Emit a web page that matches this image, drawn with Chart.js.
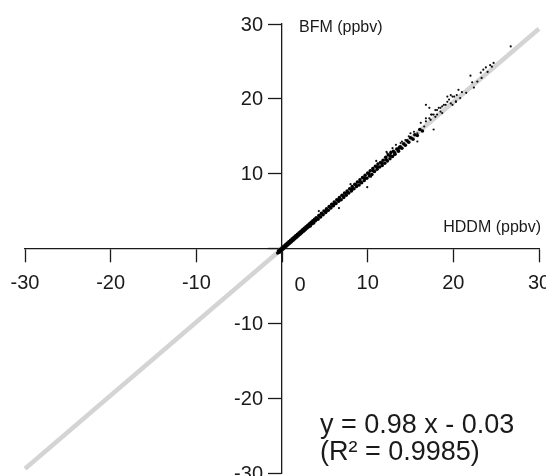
<!DOCTYPE html>
<html>
<head>
<meta charset="utf-8">
<script src="https://cdn.jsdelivr.net/npm/chart.js@4"></script>
<style>
  html, body { margin: 0; padding: 0; background: #fff; }
  #chart { display: block; }
</style>
</head>
<body>
<canvas id="chart" width="546" height="476"></canvas>
<script>
  // HDDM (x) vs BFM (y), ppbv -- the dense band close to the 1:1 line
  const bandHddm = [
    -0.5,-0.4,-0.3,-0.2,-0.1,0.0,0.1,0.2,0.3,0.4,0.5,0.6,0.7,0.8,0.9,1.0,1.1,1.2,1.3,1.4,1.5,1.6,1.7,1.8,1.9,2.0,2.1,2.2,2.3,2.4,2.5,2.6,2.7,2.8,2.9,3.0,3.1,3.2,3.3,3.4,3.5,3.6,3.7,3.8,3.9,
    4.0,4.2,4.3,4.5,4.6,4.8,4.9,5.1,5.2,5.4,5.5,5.7,5.8,6.0,6.1,6.3,6.4,6.6,6.7,6.9,7.0,7.2,7.3,7.5,7.6,7.8,7.9,8.1,8.2,8.4,8.5,8.7,8.8,9.0,9.1,9.3,9.4,9.6,9.7,9.9,
    10.0,10.2,10.3,10.5,10.6,10.8,10.9,11.1,11.2,11.4,11.5,11.7,11.8,12.0,12.1,12.3,12.4,12.6,12.7,12.9,13.0,13.2,13.4,13.6,13.8,14.0,14.2,14.4,14.6,14.8,15.0,15.3,15.5,15.8,16.1,16.4,
    0.15,0.65,1.15,1.65,2.15,2.65,3.15,3.65,4.15,4.65,5.15,5.65,6.15,6.65,7.15,7.65,8.15,8.65,9.15,9.65,10.15,10.65,11.15,11.65,12.15,12.65,13.15,13.65
  ];
  const bandBfm = [
    -0.6,-0.3,-0.5,-0.1,-0.3,0.1,-0.1,0.3,0.1,0.5,0.3,0.7,0.5,0.9,0.7,1.1,0.9,1.3,1.1,1.5,1.3,1.7,1.5,1.9,1.7,2.1,1.9,2.3,2.1,2.5,2.3,2.7,2.5,2.9,2.7,3.1,2.9,3.3,3.0,3.5,3.3,3.7,3.4,3.9,3.7,
    4.1,3.9,4.4,4.2,4.7,4.5,5.0,4.8,5.3,5.1,5.6,5.4,5.9,5.7,6.2,6.0,6.5,6.3,6.8,6.5,7.1,6.8,7.4,7.1,7.7,7.4,8.0,7.7,8.3,8.0,8.6,8.3,8.9,8.5,9.2,8.8,9.5,9.1,9.8,9.4,
    10.1,9.7,10.4,9.9,10.7,10.3,11.0,10.6,11.3,10.9,11.5,11.1,11.8,11.4,12.2,11.7,12.5,12.0,12.8,12.3,13.0,12.6,13.3,13.0,13.6,13.4,14.0,13.8,14.4,14.2,14.8,14.6,15.2,15.1,15.9,15.7,
    0.1,0.6,1.1,1.6,2.1,2.5,3.1,3.5,4.0,4.6,5.0,5.5,6.0,6.5,7.0,7.5,7.9,8.5,8.9,9.4,10.0,10.4,10.9,11.4,11.9,12.4,12.8,13.4
  ];
  // the looser points further out
  const sparseHddm = [
    6.65,9.95,4.3,8.0,11.0,12.2,10.4,12.3,12.7,13.1,12.9,13.3,13.45,13.65,13.85,14.0,14.4,14.8,15.2,15.0,15.8,15.8,15.4,16.0,16.6,16.2,16.8,17.35,17.7,17.2,16.8,17.5,18.1,18.7,17.9,18.5,18.9,19.9,20.3,19.5,19.3,19.9,20.4,
    26.7,24.7,24.3,23.8,24.5,24.0,23.5,22.0,23.2,23.3,22.8,22.2,22.4,21.0,20.6,21.5,20.1,19.7,20.8,20.3,19.3,19.1,19.7,18.7,18.3,18.5,18.1,17.7,17.9,17.4,17.2,16.8
  ];
  const sparseBfm = [
    5.4,8.2,5.0,8.6,11.7,12.9,9.6,12.7,12.95,12.5,13.4,13.85,13.2,13.6,14.1,14.3,14.5,15.0,14.75,15.4,14.3,15.4,15.6,15.9,16.3,16.8,17.0,17.2,15.9,18.8,19.2,17.9,17.9,18.1,18.5,18.8,19.2,19.2,19.65,19.9,20.3,20.3,20.5,
    27.0,24.8,24.5,24.2,24.3,23.6,23.9,23.1,23.5,22.8,22.3,22.2,21.5,20.9,21.2,20.8,20.3,20.5,20.1,19.6,19.6,19.2,19.4,19.0,18.8,18.3,18.5,17.9,17.6,17.9,17.4,17.4
  ];

  // fit line end points: y = 0.98 x - 0.03
  const fitX = [-30, 30];
  const fitY = [-29.43, 29.37];

  const tickValues = [-30, -20, -10, 0, 10, 20, 30];
  const fitText = ["y = 0.98 x - 0.03", "(R\u00B2 = 0.9985)"];

  const FONT = "'Liberation Sans', Helvetica, Arial, sans-serif";
  const INK = "#1a1a1a";

  const toPoints = (xs, ys) => xs.map((x, i) => ({ x: x, y: ys[i] }));

  // labels that Igor puts by hand: y tick labels, the shifted "0", axis names, fit text
  const extraText = {
    id: "extraText",
    afterDraw(chart) {
      const ctx = chart.ctx;
      const xs = chart.scales.x;
      const ys = chart.scales.y;
      const x0 = xs.getPixelForValue(0);
      const y0 = ys.getPixelForValue(0);

      ctx.save();
      ctx.fillStyle = INK;

      ctx.font = "20px " + FONT;
      ctx.textAlign = "right";
      ctx.textBaseline = "middle";
      ys.ticks.forEach((t) => {
        if (t.value === 0) return;
        ctx.fillText(String(t.value), x0 - 19, ys.getPixelForValue(t.value) + 1);
      });

      ctx.textAlign = "center";
      ctx.textBaseline = "alphabetic";
      ctx.fillText("0", x0 + 18, y0 + 42);

      ctx.font = "16px " + FONT;
      ctx.textAlign = "right";
      ctx.fillText("HDDM (ppbv)", chart.chartArea.right + 2, y0 - 17);
      ctx.textAlign = "left";
      ctx.fillText("BFM (ppbv)", x0 + 17, ys.getPixelForValue(30) + 8);

      ctx.font = "27px " + FONT;
      ctx.fillText(fitText[0], x0 + 38, ys.getPixelForValue(-24.6));
      ctx.fillText(fitText[1], x0 + 38, ys.getPixelForValue(-28.2));
      ctx.restore();
    }
  };

  const axisOpts = (other, showLabels) => ({
    type: "linear",
    min: -30,
    max: 30,
    position: { [other]: 0 },
    afterBuildTicks: (scale) => {
      scale.ticks = tickValues.map((v) => ({ value: v }));
    },
    afterFit: (scale) => {
      if (scale.isHorizontal()) scale.height = 0;
      else scale.width = 0;
      scale.paddingLeft = 0;
      scale.paddingRight = 0;
      scale.paddingTop = 0;
      scale.paddingBottom = 0;
    },
    grid: {
      drawOnChartArea: false,
      drawTicks: true,
      tickLength: 13,
      tickColor: INK,
      tickWidth: 1.3,
    },
    border: { display: true, color: INK, width: 1.3 },
    ticks: {
      display: showLabels,
      color: INK,
      font: { family: FONT, size: 20 },
      padding: 10,
      maxRotation: 0,
      autoSkip: false,
      callback: (v) => (v === 0 ? "" : String(v)),
    },
  });

  new Chart(document.getElementById("chart"), {
    type: "scatter",
    data: {
      datasets: [
        {
          label: "BFM vs HDDM (band)",
          data: toPoints(bandHddm, bandBfm),
          pointRadius: 1.75,
          pointBackgroundColor: "#000",
          pointBorderWidth: 0,
          order: 1,
        },
        {
          label: "BFM vs HDDM",
          data: toPoints(sparseHddm, sparseBfm),
          pointRadius: 1.1,
          pointBackgroundColor: "#111",
          pointBorderWidth: 0,
          order: 1,
        },
        {
          type: "line",
          label: "fit",
          data: toPoints(fitX, fitY),
          borderColor: "#d4d4d4",
          borderWidth: 4.5,
          pointRadius: 0,
          fill: false,
          clip: false,
          order: 2,
        },
      ],
    },
    options: {
      responsive: false,
      animation: false,
      layout: {
        autoPadding: false,
        padding: { left: 25, right: 7, top: 24, bottom: 3 },
      },
      scales: {
        x: axisOpts("y", true),
        y: axisOpts("x", false),
      },
      plugins: {
        legend: { display: false },
        tooltip: { enabled: false },
      },
    },
    plugins: [extraText],
  });
</script>
</body>
</html>
